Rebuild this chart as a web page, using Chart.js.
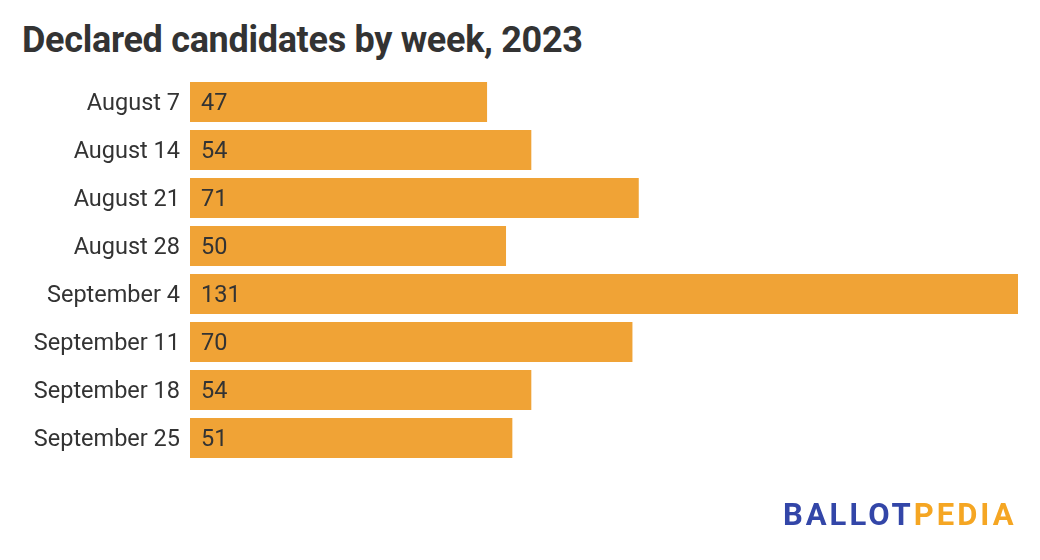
<!DOCTYPE html>
<html>
<head>
<meta charset="utf-8">
<script src="https://cdn.jsdelivr.net/npm/chart.js@4.4.0/dist/chart.umd.min.js"></script>
<style>
  html, body { margin: 0; padding: 0; background: #fff; }
  #wrap { position: relative; width: 1040px; height: 560px; overflow: hidden; }
  #title {
    position: absolute; left: 22px; top: 19px; margin: 0; line-height: 42px;
    font: bold 36px Roboto, sans-serif; color: #333; letter-spacing: -0.3px;
    white-space: nowrap;
  }
  #logo {
    position: absolute; left: 783px; top: 496px; line-height: 36px;
    font: bold 31px Roboto, sans-serif; letter-spacing: 3px; white-space: nowrap;
  }
  #logo .b { color: #3346a8; }
  #logo .p { color: #f5a623; }
  canvas { position: absolute; left: 0; top: 0; }
</style>
</head>
<body>
<div id="wrap">
  <h1 id="title">Declared candidates by week, 2023</h1>
  <canvas id="chart" width="1040" height="560"></canvas>
  <div id="logo"><span class="b">BALLOT</span><span class="p">PEDIA</span></div>
</div>
<script>
// 주별 후보 등록 수
const WEEKS = [
    "August 7", "August 14", "August 21", "August 28",
    "September 4", "September 11", "September 18", "September 25",
];
const CANDIDATES = [47, 54, 71, 50, 131, 70, 54, 51];

const BAR_COLOR = "#f0a336";
const TEXT_COLOR = "#333333";

// 막대 안쪽 왼쪽에 값 표시
const valueLabels = {
    id: "valueLabels",
    afterDatasetsDraw(chart) {
        const ctx = chart.ctx;
        const meta = chart.getDatasetMeta(0);
        ctx.save();
        ctx.font = "23.5px Roboto, sans-serif";
        ctx.fillStyle = TEXT_COLOR;
        ctx.textAlign = "left";
        ctx.textBaseline = "middle";
        meta.data.forEach((bar, i) => {
            ctx.fillText(String(CANDIDATES[i]), bar.base + 11, bar.y + 2);
        });
        ctx.restore();
    },
};

new Chart(document.getElementById("chart"), {
    type: "bar",
    data: {
        labels: WEEKS,
        datasets: [{
            data: CANDIDATES,
            backgroundColor: BAR_COLOR,
            borderWidth: 0,
            barPercentage: 0.833,
            categoryPercentage: 1.0,
        }],
    },
    options: {
        indexAxis: "y",
        responsive: false,
        animation: false,
        devicePixelRatio: 1,
        layout: { padding: { left: 0, right: 22, top: 78, bottom: 98 } },
        plugins: {
            legend: { display: false },
            tooltip: { enabled: false },
        },
        scales: {
            x: {
                display: false,
                min: 0,
                max: 131,
            },
            y: {
                afterFit(scale) { scale.width = 190; },
                border: { display: false },
                grid: { display: false, drawTicks: false },
                ticks: {
                    color: TEXT_COLOR,
                    font: { family: "Roboto", size: 23.5 },
                    padding: 10,
                    labelOffset: 2,
                },
            },
        },
    },
    plugins: [valueLabels],
});
</script>
</body>
</html>
